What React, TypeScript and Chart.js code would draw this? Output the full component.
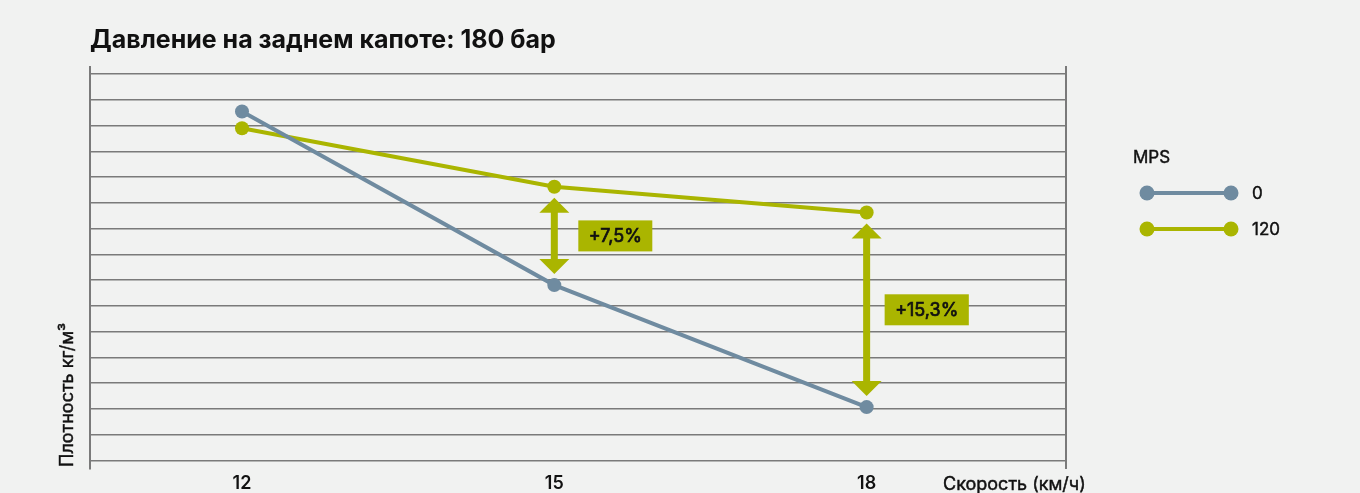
import React, { useEffect, useRef } from 'react';
import { Chart, registerables } from 'chart.js';

Chart.register(...registerables);

// ---- data ----
const chartTitle = 'Давление на заднем капоте: 180 бар';
const xAxisTitle = 'Скорость (км/ч)';
const yAxisTitle = 'Плотность кг/м³';
const legendTitle = 'MPS';
const speeds = [12, 15, 18];
const seriesNames = ['0', '120'];
const densityMps0 = [13.55, 6.81, 2.07];
const densityMps120 = [12.9, 10.63, 9.63];
const gainPointIndex = [1, 2];
const gainLabels = ['+7,5%', '+15,3%'];

// ---- style ----
const BG = '#f1f2f1';
const BLUE = '#6f8ba0';
const GREEN = '#aab500';
const GRID = '#7a7a7a';
const TEXT = '#111111';
const FONT = 'Inter, "Liberation Sans", Arial, sans-serif';
const gainBoxOffsets = [24, 18];

function heavyText(ctx: any, s: string, x: number, y: number, w = 0.45) {
  ctx.fillText(s, x, y);
  ctx.lineWidth = w;
  ctx.strokeStyle = ctx.fillStyle;
  ctx.strokeText(s, x, y);
}

const decorPlugin = {
  id: 'decor',
  afterDatasetsDraw(chart: any) {
    const { ctx, scales } = chart;
    const xs = scales.x;
    const ys = scales.y;
    ctx.save();
    gainPointIndex.forEach((idx, k) => {
      const x = xs.getPixelForValue(speeds[idx]);
      const yTop = ys.getPixelForValue(densityMps120[idx]) + 11;
      const yBot = ys.getPixelForValue(densityMps0[idx]) - 11;
      const headH = 15;
      const headW = 15;
      ctx.fillStyle = GREEN;
      ctx.fillRect(x - 3.5, yTop + headH - 1, 7, yBot - yTop - 2 * headH + 2);
      ctx.beginPath();
      ctx.moveTo(x, yTop);
      ctx.lineTo(x + headW, yTop + headH);
      ctx.lineTo(x - headW, yTop + headH);
      ctx.closePath();
      ctx.fill();
      ctx.beginPath();
      ctx.moveTo(x, yBot);
      ctx.lineTo(x + headW, yBot - headH);
      ctx.lineTo(x - headW, yBot - headH);
      ctx.closePath();
      ctx.fill();
      // label box
      ctx.font = `18px ${FONT}`;
      const tw = ctx.measureText(gainLabels[k]).width;
      const bw = tw + 21;
      const bh = 31;
      const cy = (yTop + yBot) / 2;
      const bx = x + gainBoxOffsets[k];
      ctx.fillRect(bx, cy - bh / 2, bw, bh);
      ctx.fillStyle = TEXT;
      ctx.textAlign = 'center';
      ctx.textBaseline = 'middle';
      heavyText(ctx, gainLabels[k], bx + bw / 2, cy + 1, 0.7);
    });
    ctx.restore();
  },
  afterDraw(chart: any) {
    const { ctx } = chart;
    ctx.save();
    ctx.fillStyle = TEXT;
    // title
    ctx.font = `bold 25px ${FONT}`;
    ctx.textAlign = 'left';
    ctx.textBaseline = 'alphabetic';
    ctx.fillText(chartTitle, 90, 48);
    // x axis title
    ctx.font = `18px ${FONT}`;
    heavyText(ctx, xAxisTitle, 943, 490);
    // y axis title
    ctx.save();
    ctx.translate(72.5, 467);
    ctx.rotate(-Math.PI / 2);
    heavyText(ctx, yAxisTitle, 0, 0);
    ctx.restore();
    // legend
    ctx.font = `17px ${FONT}`;
    ctx.textBaseline = 'middle';
    heavyText(ctx, legendTitle, 1133, 158);
    const colors = [BLUE, GREEN];
    seriesNames.forEach((name, i) => {
      const y = 193 + i * 36;
      ctx.strokeStyle = colors[i];
      ctx.fillStyle = colors[i];
      ctx.lineWidth = 4;
      ctx.beginPath();
      ctx.moveTo(1147, y);
      ctx.lineTo(1231, y);
      ctx.stroke();
      [1147, 1231].forEach((cx) => {
        ctx.beginPath();
        ctx.arc(cx, y, 7.5, 0, Math.PI * 2);
        ctx.fill();
      });
      ctx.fillStyle = TEXT;
      heavyText(ctx, name, 1252, y + 1);
    });
    ctx.restore();
  },
};

export default function App() {
  const ref = useRef<HTMLCanvasElement>(null);
  useEffect(() => {
    document.body.style.margin = '0';
    document.body.style.background = BG;
    const canvas = ref.current!;
    const mk = (vals: number[], color: string, label: string) => ({
      label,
      data: speeds.map((x, i) => ({ x, y: vals[i] })),
      borderColor: color,
      backgroundColor: color,
      pointBackgroundColor: color,
      pointBorderWidth: 0,
      pointRadius: 7,
      borderWidth: 4,
      tension: 0,
    });
    const yRange = { min: -0.31, max: 15.28 };
    const chart = new Chart(canvas, {
      type: 'line',
      data: {
        datasets: [
          mk(densityMps0, BLUE, seriesNames[0]),
          mk(densityMps120, GREEN, seriesNames[1]),
        ],
      },
      options: {
        responsive: false,
        animation: false,
        layout: { padding: { left: 90, right: 294, top: 67, bottom: -5 } },
        plugins: {
          legend: { display: false },
          title: { display: false },
          tooltip: { enabled: false },
        },
        scales: {
          x: {
            type: 'linear',
            min: 10.54,
            max: 19.915,
            grid: { display: false, drawTicks: false },
            border: { display: false },
            afterBuildTicks: (s: any) => {
              s.ticks = speeds.map((v) => ({ value: v }));
            },
            ticks: {
              color: TEXT,
              padding: 4,
              font: { size: 18, family: FONT, weight: '600' },
              callback: (v: any) => String(v),
            },
          },
          y: {
            ...yRange,
            ticks: { display: false, stepSize: 1, includeBounds: false },
            grid: { color: GRID, lineWidth: 1.6, drawTicks: false },
            border: { display: true, color: GRID, width: 2 },
          },
          y2: {
            ...yRange,
            position: 'right',
            ticks: { display: false },
            grid: { display: false, drawTicks: false },
            border: { display: true, color: GRID, width: 2 },
          },
        },
      } as any,
      plugins: [decorPlugin],
    });
    return () => chart.destroy();
  }, []);
  return (
    <div style={{ position: 'absolute', left: 0, top: 0, width: 1360, height: 493, background: BG }}>
      <canvas ref={ref} width={1360} height={493} style={{ display: 'block' }} />
    </div>
  );
}
